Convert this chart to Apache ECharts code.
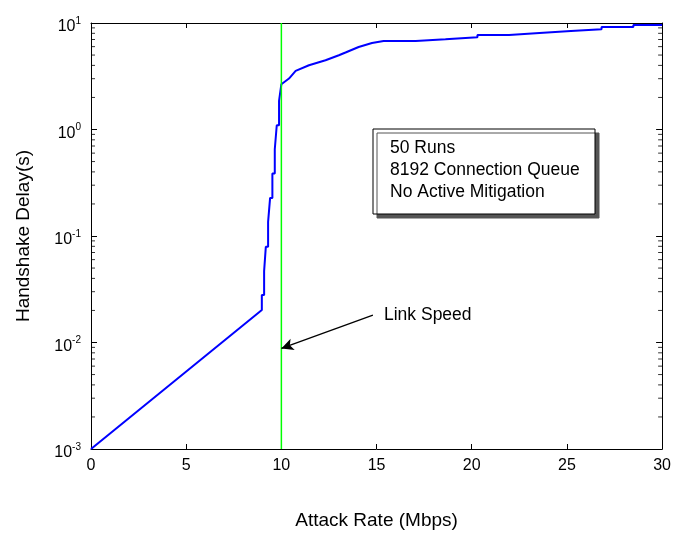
<!DOCTYPE html>
<html>
<head>
<meta charset="utf-8">
<script src="https://cdn.jsdelivr.net/npm/echarts@6/dist/echarts.min.js"></script>
<style>
  html, body { margin: 0; padding: 0; background: #fff; }
  #chart { width: 674px; height: 538px; }
</style>
</head>
<body>
<div id="chart"></div>
<script>
// Handshake delay vs. attack rate (vertices of the measured curve)
const rateMbps = [
  0, 8.974,
  8.974, 9.094, 9.094, 9.183, 9.183, 9.303, 9.303, 9.408, 9.408,
  9.528, 9.528, 9.654, 9.654, 9.758, 9.758, 9.878, 9.878,
  10.0, 10.40, 10.75, 11.45, 12.32, 13.02, 13.37, 14.06, 14.76, 15.37,
  17.06, 17.06, 18.62, 18.62, 20.30, 20.30, 21.96, 21.96, 23.56, 23.56,
  25.21, 25.21, 26.82, 26.82, 28.49, 28.49, 30
];
const delaySec = [
  0.001, 0.02015,
  0.0279, 0.0279, 0.0468, 0.0468, 0.0791, 0.0791, 0.1358, 0.1358, 0.228,
  0.228, 0.386, 0.386, 0.653, 0.653, 1.097, 1.097, 1.854,
  2.66, 3.01, 3.55, 4.01, 4.47, 4.98, 5.28, 5.95, 6.49, 6.78,
  6.78, 7.03, 7.03, 7.34, 7.34, 7.72, 7.72, 8.06, 8.06, 8.41,
  8.41, 8.73, 8.73, 9.17, 9.17, 9.58, 9.58
];

const linkSpeedMbps = 10;
const xMin = 0, xMax = 30, xStep = 5;
const yExponents = [-3, -2, -1, 0, 1];
const minorMultipliers = [2, 3, 4, 5, 6, 7, 8, 9];

// "Link Speed" arrow: tail near the label, head on the link-speed line
const arrowTail = [14.81, 0.0181];
const arrowHead = [10, 0.0088];
const arrowLabel = 'Link Speed';

const noteLines = ['50 Runs', '8192 Connection Queue', 'No Active Mitigation'];

const FONT = '"Liberation Sans", Arial, Helvetica, sans-serif';

const curve = rateMbps.map((x, i) => [x, delaySec[i]]);
const yMin = Math.pow(10, yExponents[0]);
const yMax = Math.pow(10, yExponents[yExponents.length - 1]);

// minor tick values 2..9 x 10^k on the log axis
const minorValues = [];
for (let k = 0; k < yExponents.length - 1; k++) {
  minorMultipliers.forEach(m => minorValues.push(m * Math.pow(10, yExponents[k])));
}

const axisLine = { show: true, onZero: false, lineStyle: { color: '#000', width: 1 } };
const majorTick = len => ({ inside: true, length: len, lineStyle: { color: '#000', width: 1 } });

// short inward dashes on the left / right frame edges
const minorTickSeries = (xVal, dir) => ({
  type: 'scatter',
  silent: true,
  data: minorValues.map(v => [xVal, v]),
  symbol: 'rect',
  symbolSize: [4, 1],
  symbolOffset: [dir * 2, 0],
  itemStyle: { color: '#000' },
  z: 5
});

const chart = echarts.init(document.getElementById('chart'), null, { renderer: 'canvas' });

chart.setOption({
  animation: false,
  backgroundColor: '#fff',
  grid: { left: 91, right: 9, top: 23, bottom: 89, show: false },
  xAxis: [
    {
      type: 'value', min: xMin, max: xMax, interval: xStep,
      name: 'Attack Rate (Mbps)', nameLocation: 'middle', nameGap: 62,
      nameTextStyle: { fontFamily: FONT, fontSize: 19, color: '#000' },
      axisLine,
      axisTick: majorTick(5),
      axisLabel: { fontFamily: FONT, fontSize: 16, color: '#000', margin: 9 },
      splitLine: { show: false }
    },
    {
      type: 'value', min: xMin, max: xMax, interval: xStep, position: 'top',
      axisLine,
      axisTick: majorTick(5),
      axisLabel: { show: false },
      splitLine: { show: false }
    }
  ],
  yAxis: [
    {
      type: 'log', logBase: 10, min: yMin, max: yMax,
      name: 'Handshake Delay(s)', nameLocation: 'middle', nameGap: 58,
      nameTextStyle: { fontFamily: FONT, fontSize: 19, color: '#000' },
      axisLine,
      axisTick: majorTick(6),
      axisLabel: {
        margin: 10,
        formatter: v => '{b|10}{s|' + Math.round(Math.log10(v)) + '}',
        rich: {
          b: { fontFamily: FONT, fontSize: 16, color: '#000', lineHeight: 22, padding: [8, 0, 0, 0] },
          s: { fontFamily: FONT, fontSize: 10, color: '#000', lineHeight: 22, padding: [0, 0, 4, 0] }
        }
      },
      splitLine: { show: false }
    },
    {
      type: 'log', logBase: 10, min: yMin, max: yMax, position: 'right',
      axisLine,
      axisTick: majorTick(6),
      axisLabel: { show: false },
      splitLine: { show: false }
    }
  ],
  series: [
    {
      name: 'delay',
      type: 'line',
      data: curve,
      showSymbol: false,
      symbol: 'none',
      lineStyle: { color: '#0000ff', width: 2 },
      z: 3,
      markLine: {
        silent: true,
        symbol: ['none', 'arrow'],
        symbolSize: [9, 12],
        lineStyle: { color: '#000', width: 1.3, type: 'solid' },
        label: { show: false },
        data: [[{ coord: arrowTail }, { coord: arrowHead }]],
        z: 6
      }
    },
    {
      name: 'link speed',
      type: 'line',
      data: [[linkSpeedMbps, yMin], [linkSpeedMbps, yMax]],
      showSymbol: false,
      symbol: 'none',
      lineStyle: { color: '#00ff00', width: 1.5 },
      z: 4
    },
    minorTickSeries(xMin, 1),
    minorTickSeries(xMax, -1)
  ],
  graphic: [
    {
      type: 'rect',
      shape: { x: 373, y: 129, width: 222, height: 85 },
      style: { fill: '#fff', stroke: '#000', lineWidth: 1, shadowColor: '#555', shadowOffsetX: 4, shadowOffsetY: 4, shadowBlur: 0 },
      z: 10
    },
    {
      type: 'text',
      x: 390, y: 137,
      style: { text: noteLines.join('\n'), fontFamily: FONT, fontSize: 17.5, lineHeight: 22, fill: '#000' },
      z: 11
    },
    {
      type: 'text',
      x: 384, y: 306,
      style: { text: arrowLabel, fontFamily: FONT, fontSize: 17.5, fill: '#000' },
      z: 11
    }
  ]
});
</script>
</body>
</html>
